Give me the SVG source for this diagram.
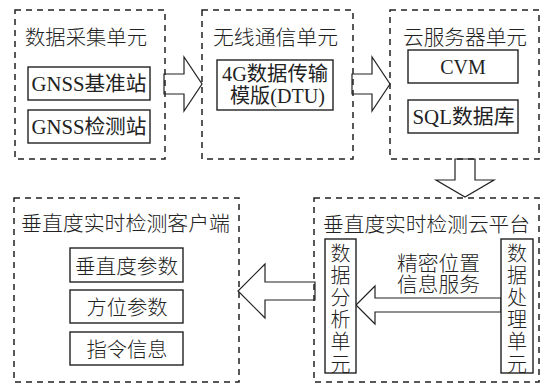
<svg xmlns="http://www.w3.org/2000/svg" width="545" height="385" viewBox="0 0 545 385">
<style>
.dash{fill:none;stroke:#222;stroke-width:1.5;stroke-dasharray:6 5}
.box{fill:#fff;stroke:#222;stroke-width:1.4}
.arr{fill:#fff;stroke:#222;stroke-width:1.2;stroke-linejoin:miter}
text{font-family:"Liberation Serif","Noto Sans CJK SC",serif;font-size:20px;fill:#222;text-anchor:middle;dominant-baseline:central}
.t{font-family:"Noto Sans CJK SC",sans-serif;font-weight:300}
</style>
<rect width="545" height="385" fill="#fff"/>
<g id="connectors">
<polygon class="arr" points="164,74 184,74 184,57 202,84 184,111 184,94 164,94"/>
<polygon class="arr" points="352,74 372,74 372,57 390,84 372,111 372,94 352,94"/>
<polygon class="arr" points="455,159 475,159 475,180 494,180 465,197 436,180 455,180"/>
<polygon class="arr" points="315,282 265,282 265,264 238,291 265,318 265,300 315,300"/>
<polygon class="arr" points="501,298 375,298 375,286 356,305 375,324 375,312 501,312"/>
</g>
<g id="acquisition">
<rect class="dash" x="15" y="10" width="150" height="149"/>
<text class="t" x="86" y="36" textLength="122" lengthAdjust="spacingAndGlyphs">数据采集单元</text>
</g>
<g id="gnss-base">
<rect class="box" x="28" y="67" width="122" height="33"/>
<text x="89" y="83.5" textLength="115" lengthAdjust="spacingAndGlyphs">GNSS基准站</text>
</g>
<g id="gnss-monitor">
<rect class="box" x="28" y="110" width="122" height="33"/>
<text x="89" y="126.5" textLength="115" lengthAdjust="spacingAndGlyphs">GNSS检测站</text>
</g>
<g id="wireless">
<rect class="dash" x="202" y="10" width="151" height="149"/>
<text class="t" x="275.5" y="36" textLength="125" lengthAdjust="spacingAndGlyphs">无线通信单元</text>
</g>
<g id="dtu">
<rect class="box" x="217" y="60" width="116" height="50"/>
<text x="275" y="73.5" textLength="106" lengthAdjust="spacingAndGlyphs">4G数据传输</text>
<text x="277.5" y="96" textLength="95" lengthAdjust="spacingAndGlyphs">模版(DTU)</text>
</g>
<g id="cloud-server">
<rect class="dash" x="390" y="10" width="149" height="149"/>
<text class="t" x="465" y="36" textLength="124" lengthAdjust="spacingAndGlyphs">云服务器单元</text>
</g>
<g id="cvm">
<rect class="box" x="408" y="50" width="110" height="33"/>
<text x="463" y="67">CVM</text>
</g>
<g id="sql">
<rect class="box" x="408" y="100" width="110" height="33"/>
<text x="463.5" y="117" textLength="102" lengthAdjust="spacingAndGlyphs">SQL数据库</text>
</g>
<g id="client">
<rect class="dash" x="14" y="198" width="225" height="184"/>
<text class="t" x="125.5" y="222.5" textLength="209" lengthAdjust="spacingAndGlyphs">垂直度实时检测客户端</text>
</g>
<g id="verticality-params">
<rect class="box" x="70" y="248" width="113" height="34"/>
<text class="t" x="126.5" y="265" textLength="103" lengthAdjust="spacingAndGlyphs">垂直度参数</text>
</g>
<g id="azimuth-params">
<rect class="box" x="70" y="290" width="113" height="33"/>
<text class="t" x="127" y="306.5" textLength="81" lengthAdjust="spacingAndGlyphs">方位参数</text>
</g>
<g id="command-info">
<rect class="box" x="70" y="332" width="113" height="33"/>
<text class="t" x="127" y="348.5" textLength="81" lengthAdjust="spacingAndGlyphs">指令信息</text>
</g>
<g id="cloud-platform">
<rect class="dash" x="314" y="198" width="225" height="184"/>
<text class="t" x="426.5" y="223.5" textLength="207" lengthAdjust="spacingAndGlyphs">垂直度实时检测云平台</text>
<text class="t" x="438.5" y="262.5" textLength="83" lengthAdjust="spacingAndGlyphs">精密位置</text>
<text class="t" x="438.5" y="283.5" textLength="83" lengthAdjust="spacingAndGlyphs">信息服务</text>
</g>
<g id="analysis-unit">
<rect class="box" x="325" y="239" width="31" height="134"/>
<text class="t" x="340.5" y="252">数</text>
<text class="t" x="340.5" y="274.2">据</text>
<text class="t" x="340.5" y="296.4">分</text>
<text class="t" x="340.5" y="318.6">析</text>
<text class="t" x="340.5" y="340.8">单</text>
<text class="t" x="340.5" y="363">元</text>
</g>
<g id="processing-unit">
<rect class="box" x="501" y="239" width="32" height="134"/>
<text class="t" x="517" y="252">数</text>
<text class="t" x="517" y="274.2">据</text>
<text class="t" x="517" y="296.4">处</text>
<text class="t" x="517" y="318.6">理</text>
<text class="t" x="517" y="340.8">单</text>
<text class="t" x="517" y="363">元</text>
</g>
</svg>
